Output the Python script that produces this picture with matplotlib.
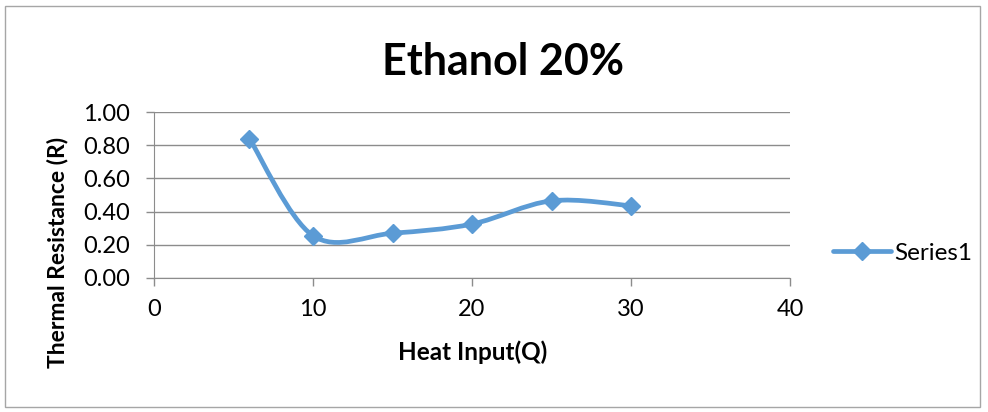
import numpy as np
import matplotlib.pyplot as plt
from matplotlib.path import Path
from matplotlib.patches import PathPatch, Rectangle
from matplotlib.lines import Line2D

heat_input = [6, 10, 15, 20, 25, 30]
resistance = [0.84, 0.255, 0.27, 0.325, 0.465, 0.435]
series_name = "Series1"
y_ticks = [0.0, 0.2, 0.4, 0.6, 0.8, 1.0]
x_ticks = [0, 10, 20, 30, 40]

plt.rcParams['font.family'] = ['Lato', 'DejaVu Sans']
blue = '#5B9BD5'
grid_c = '#8c8c8c'

fig = plt.figure(figsize=(9.88, 4.12), dpi=100)
ax = fig.add_axes([154/988, 1-278/412, (790-154)/988, (278-112)/412])

# smooth line like Excel (Catmull-Rom style bezier)
pts = np.column_stack([heat_input, resistance]).astype(float)
verts = [tuple(pts[0])]
codes = [Path.MOVETO]
n = len(pts)
for i in range(n - 1):
    p0 = pts[i - 1] if i > 0 else pts[i]
    p1 = pts[i]
    p2 = pts[i + 1]
    p3 = pts[i + 2] if i + 2 < n else pts[i + 1]
    c1 = p1 + (p2 - p0) / 6
    c2 = p2 - (p3 - p1) / 6
    verts += [tuple(c1), tuple(c2), tuple(p2)]
    codes += [Path.CURVE4] * 3
ax.add_patch(PathPatch(Path(verts, codes), fill=False, edgecolor=blue, lw=3.4,
                       capstyle='round', joinstyle='round', zorder=3))
ax.plot(heat_input, resistance, linestyle='none', marker='D', ms=9,
        color=blue, markeredgecolor=blue, zorder=4)

ax.set_xlim(0, 40)
ax.set_ylim(0, 1.0)
ax.set_xticks(x_ticks)
ax.set_yticks(y_ticks)
ax.set_yticklabels([f"{v:.2f}" for v in y_ticks])
ax.tick_params(labelsize=17, length=6, color=grid_c, width=1)
ax.tick_params(axis='y', pad=11)
ax.tick_params(axis='x', pad=9)
ax.yaxis.grid(True, color=grid_c, lw=1)
ax.set_axisbelow(True)
for s in ['top', 'right']:
    ax.spines[s].set_visible(False)
for s in ['left', 'bottom']:
    ax.spines[s].set_color(grid_c)

fig.text(473/988, 1-352/412, 'Heat Input(Q)', ha='center', va='center',
         fontsize=17.5, fontweight='bold')
fig.text(58/988, 1-252/412, 'Thermal Resistance (R)', ha='center', va='center',
         rotation=90, fontsize=16.5, fontweight='bold')
fig.text(503/988, 1-62/412, 'Ethanol 20%', ha='center', va='center',
         fontsize=31, fontweight='bold')

h = Line2D([], [], color=blue, lw=3.4, marker='D', ms=9, solid_capstyle='round')
fig.legend([h], [series_name], loc='center left', bbox_to_anchor=(833/988, 1-253/412),
           frameon=False, fontsize=17.5, handlelength=2.4, handletextpad=0.1,
           borderaxespad=0, borderpad=0)

fig.patches.append(Rectangle((5/988, 5/412), 975/988, 401/412, transform=fig.transFigure,
                             fill=False, edgecolor='#a6a6a6', lw=1))

fig.savefig('out.png', dpi=100)
